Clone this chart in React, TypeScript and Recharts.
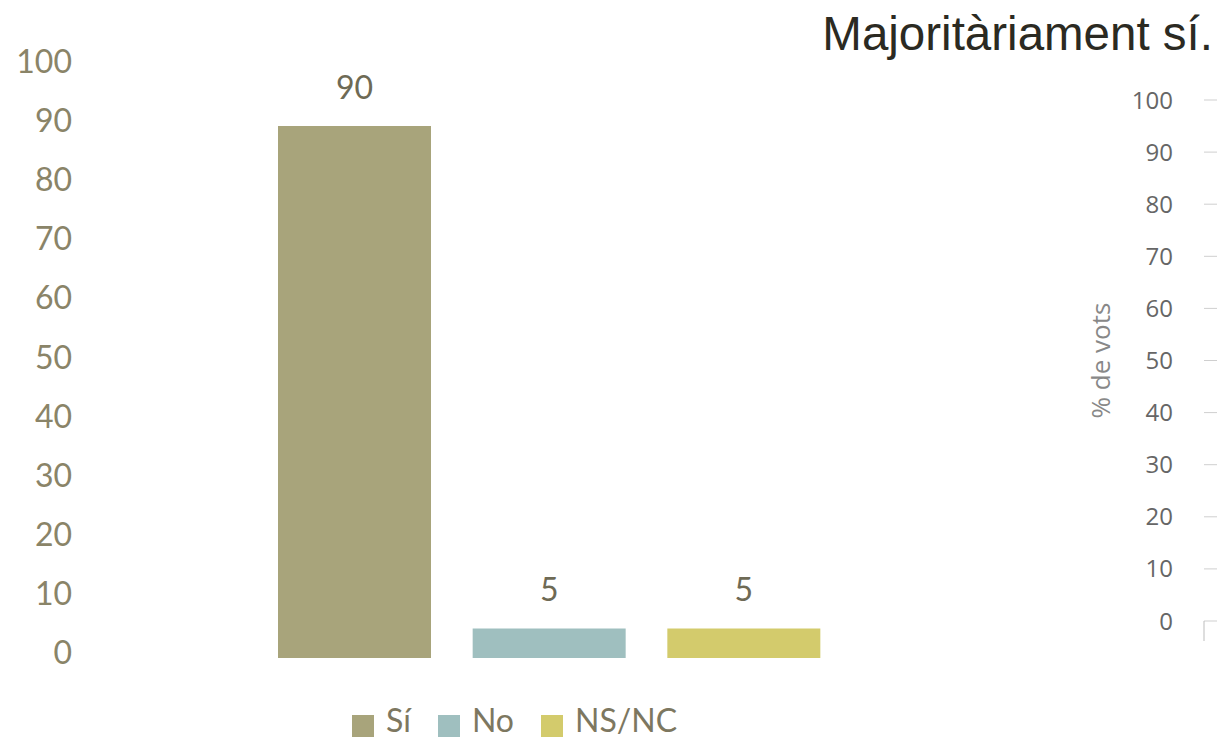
import { CartesianGrid, Cell, LabelList, Bar, BarChart, ComposedChart, Line, XAxis, YAxis } from "recharts";

const categories = ["Sí", "No", "NS/NC"];
const votes = [90, 5, 5];
const barColors = ["#a8a47b", "#9fbfbf", "#d3cb6c"];
const leftTicks = [0, 10, 20, 30, 40, 50, 60, 70, 80, 90, 100];
const rightTicks = [0, 10, 20, 30, 40, 50, 60, 70, 80, 90, 100];
const title = "Majoritàriament sí.";
const axisTitle = "% de vots";

const chartData = categories.map((name, i) => ({ name, value: votes[i] }));

const LeftTick = ({ x, y, payload }: any) => (
  <text
    x={x}
    y={y}
    dy={6}
    textAnchor="end"
    fontFamily="Lato"
    fontSize={32}
    fill="#8a8468"
  >
    {payload.value}
  </text>
);

const NoLabel = () => <g />;

export default function App() {
  return (
    <div
      style={{
        position: "absolute",
        left: 0,
        top: 0,
        width: 1217,
        height: 739,
        overflow: "hidden",
        background: "#fff",
      }}
    >
      <div
        style={{
          position: "absolute",
          right: 4,
          top: 10,
          fontFamily: "Liberation Sans",
          fontSize: 47.5,
          lineHeight: "48px",
          color: "#2b2a22",
          whiteSpace: "nowrap",
        }}
      >
        {title}
      </div>

      {/* main bars */}
      <div style={{ position: "absolute", left: 0, top: 0 }}>
        <BarChart
          width={900}
          height={739}
          data={chartData}
          margin={{ top: 67, right: 0, bottom: 81, left: 0 }}
        >
          <XAxis dataKey="name" hide padding={{ left: 177, right: 59 }} />
          <YAxis
            domain={[0, 100]}
            ticks={leftTicks}
            width={80}
            axisLine={false}
            tickLine={false}
            tick={<LeftTick />}
            interval={0}
          />
          <Bar dataKey="value" barSize={153} isAnimationActive={false}>
            {chartData.map((_, i) => (
              <Cell key={i} fill={barColors[i]} />
            ))}
            <LabelList
              dataKey="value"
              position="top"
              offset={27}
              fill="#6e6a55"
              fontFamily="Lato"
              fontSize={32}
            />
          </Bar>
        </BarChart>
      </div>

      {/* right-hand scale, an empty chart of its own */}
      <div style={{ position: "absolute", left: 998, top: 0 }}>
        <ComposedChart
          width={220}
          height={739}
          data={chartData}
          margin={{ top: 100, right: 0, bottom: 98, left: 0 }}
        >
          <CartesianGrid vertical={false} stroke="#cfcfcf" />
          <XAxis
            type="number"
            dataKey={() => 0}
            domain={[0, 1]}
            ticks={[0]}
            interval={0}
            height={20}
            tick={<NoLabel />}
            axisLine={false}
            tickSize={20}
            tickLine={{ stroke: "#bdbdbd" }}
          />
          <YAxis
            domain={[0, 100]}
            ticks={rightTicks}
            width={206}
            interval={0}
            axisLine={false}
            tickLine={false}
            tickMargin={25}
            tick={{ fontFamily: "Open Sans", fontSize: 24, fill: "#666" }}
            label={{
              value: axisTitle,
              angle: -90,
              position: "center",
              fontFamily: "Open Sans",
              fontSize: 26,
              fill: "#888",
            }}
          />
          <Line
            dataKey="value"
            stroke="none"
            dot={false}
            activeDot={false}
            isAnimationActive={false}
          />
        </ComposedChart>
      </div>

      {/* legend */}
      <div
        style={{
          position: "absolute",
          left: 352,
          top: 704,
          display: "flex",
          alignItems: "center",
          fontFamily: "Lato",
          fontSize: 32,
          lineHeight: "32px",
          color: "#7d7760",
        }}
      >
        {categories.map((name, i) => (
          <div key={name} style={{ display: "flex", alignItems: "center", marginRight: 27 }}>
            <span
              style={{
                display: "inline-block",
                width: 22,
                height: 22,
                background: barColors[i],
                marginRight: 12,
                position: "relative",
                top: 6,
              }}
            />
            <span>{name}</span>
          </div>
        ))}
      </div>
    </div>
  );
}
